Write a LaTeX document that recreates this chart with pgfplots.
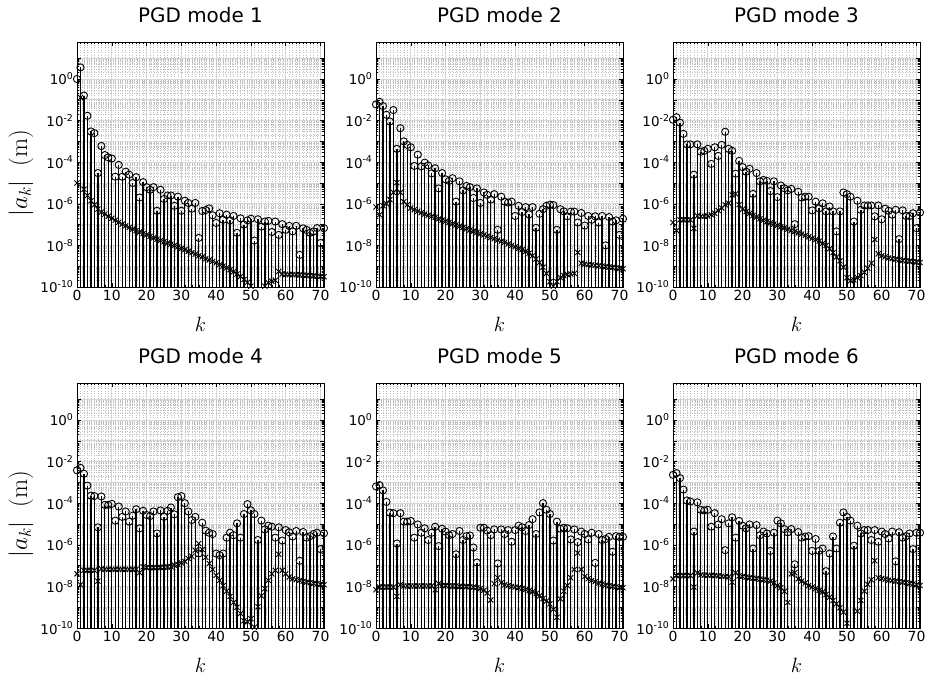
\documentclass[border=0pt]{standalone}
\usepackage{pgfplots}
\pgfplotsset{compat=1.18}
\usepackage{pgfplotstable}
\usepackage[no-math]{fontspec}
\setmainfont{DejaVu Sans}

\pgfplotstableread{
k c x
0 1.0 1e-5
1 3.6 0.13
2 0.16 5e-6
3 0.017 2.5e-6
4 3e-3 1.4e-6
5 2.5e-3 9e-7
6 3e-5 5.6e-7
7 6e-4 4e-7
8 2.2e-4 3.2e-7
9 1.7e-4 2.5e-7
10 1.5e-4 2e-7
11 2e-5 1.6e-7
12 7.4e-5 1.3e-7
13 2e-5 1.05e-7
14 3.5e-5 8.7e-8
15 2.5e-5 7.2e-8
16 1e-5 6e-8
17 1.9e-5 5.1e-8
18 2e-6 4.4e-8
19 1.1e-5 3.7e-8
20 6.3e-6 3.2e-8
21 4.7e-6 2.7e-8
22 6.3e-6 2.3e-8
23 4.6e-7 2e-8
24 4.7e-6 1.7e-8
25 1.7e-6 1.5e-8
26 2.5e-6 1.3e-8
27 2.5e-6 1.15e-8
28 8e-7 1e-8
29 2.2e-6 8.5e-9
30 4.6e-7 7.2e-9
31 1.4e-6 6.2e-9
32 1.1e-6 5.2e-9
33 5.8e-7 4.5e-9
34 1.1e-6 3.8e-9
35 2.3e-8 3.2e-9
36 4.5e-7 2.8e-9
37 5e-7 2.3e-9
38 6e-7 2e-9
39 2.8e-7 1.7e-9
40 1.2e-7 1.45e-9
41 3.5e-7 1.2e-9
42 1.7e-7 1e-9
43 3e-7 8.3e-10
44 1.6e-7 6.8e-10
45 2.6e-7 5.4e-10
46 4e-8 4.2e-10
47 2e-7 3.2e-10
48 1e-7 2.3e-10
49 1.6e-7 1.7e-10
50 1.9e-7 1.1e-10
51 1.7e-8 nan
52 1.8e-7 nan
53 8e-8 nan
54 1.4e-7 1.1e-10
55 1.5e-7 1.6e-10
56 4.4e-8 1.9e-10
57 1.4e-7 2.1e-10
58 3.2e-8 5.6e-10
59 1.05e-7 4.2e-10
60 5.6e-8 4.1e-10
61 8.7e-8 4e-10
62 4.7e-8 4e-10
63 8.7e-8 3.9e-10
64 3.5e-9 3.8e-10
65 6.6e-8 3.7e-10
66 5.5e-8 3.6e-10
67 4e-8 3.5e-10
68 4.7e-8 3.4e-10
69 6.8e-8 3.3e-10
70 1.3e-8 3.2e-10
71 6.8e-8 3.1e-10
}\tA

\pgfplotstableread{
k c x
0 0.06 7e-7
1 0.08 3e-7
2 0.05 8e-7
3 0.019 1e-6
4 9e-3 1.6e-6
5 0.032 3.5e-6
6 4.4e-4 1.05e-5
7 4.3e-3 3.5e-6
8 1e-3 1.26e-6
9 6.8e-4 9e-7
10 5.2e-4 6.3e-7
11 6.6e-5 5.2e-7
12 2.3e-4 4.4e-7
13 6.3e-5 3.7e-7
14 9.5e-5 3.2e-7
15 7e-5 2.8e-7
16 2.9e-5 2.5e-7
17 5.1e-5 2.2e-7
18 5.5e-6 1.9e-7
19 3e-5 1.66e-7
20 1.5e-5 1.45e-7
21 1.26e-5 1.26e-7
22 1.7e-5 1.1e-7
23 1.26e-6 9.5e-8
24 1.2e-5 8.3e-8
25 4.4e-6 7.2e-8
26 7.2e-6 6.3e-8
27 6.3e-6 5.5e-8
28 1.9e-6 4.8e-8
29 5.5e-6 4.2e-8
30 1.1e-6 3.6e-8
31 3.5e-6 3.2e-8
32 2.7e-6 2.75e-8
33 1.6e-6 2.4e-8
34 2.9e-6 2.1e-8
35 5.6e-8 1.8e-8
36 2.2e-6 1.6e-8
37 1.26e-6 1.4e-8
38 1.15e-6 1.17e-8
39 1.26e-6 1e-8
40 2.6e-7 8.5e-9
41 8e-7 7.2e-9
42 4e-7 6.2e-9
43 6.9e-7 5.1e-9
44 3.1e-7 4.2e-9
45 6.9e-7 3.2e-9
46 7e-8 2.2e-9
47 3.3e-7 1.5e-9
48 5.5e-7 9e-10
49 8e-7 4.5e-10
50 9e-7 1.8e-10
51 8.7e-7 1.1e-10
52 5.6e-8 1.8e-10
53 5.5e-7 2.8e-10
54 4.3e-7 3.5e-10
55 2.5e-7 4e-10
56 4.2e-7 4.2e-10
57 4.2e-7 4.5e-10
58 1.26e-7 4.6e-9
59 3.6e-7 1.4e-9
60 9e-8 1.26e-9
61 2.6e-7 1.2e-9
62 1.7e-7 1.15e-9
63 2.5e-7 1.1e-9
64 1.26e-7 1.05e-9
65 2.6e-7 1e-9
66 1e-8 9.5e-10
67 2.3e-7 9.1e-10
68 1.4e-7 8.7e-10
69 1.6e-7 8.3e-10
70 3.2e-8 7.9e-10
71 1.9e-7 7.6e-10
}\tB

\pgfplotstableread{
k c x
0 0.011 1.26e-7
1 0.0145 5.2e-8
2 8e-3 1.7e-7
3 2.3e-3 1.7e-7
4 7.2e-4 1.7e-7
5 7.2e-4 1.7e-7
6 2.5e-5 6.6e-8
7 7.2e-4 2.6e-7
8 3.2e-4 2.5e-7
9 3.5e-4 2.5e-7
10 4.4e-4 2.6e-7
11 8.3e-5 3e-7
12 5.2e-4 3.5e-7
13 2e-4 4.8e-7
14 6.8e-4 6.3e-7
15 2.9e-3 9e-7
16 4.4e-4 1.07e-6
17 3.5e-4 2.7e-6
18 2.8e-5 3e-6
19 1.15e-4 9e-7
20 5.8e-5 5.5e-7
21 3.5e-5 4.2e-7
22 4.8e-5 3.4e-7
23 3e-6 2.75e-7
24 3e-5 2.3e-7
25 1.2e-5 1.9e-7
26 1.4e-5 1.6e-7
27 1.26e-5 1.38e-7
28 4.1e-6 1.2e-7
29 1.2e-5 1.05e-7
30 2.1e-6 9.1e-8
31 7.6e-6 7.9e-8
32 5.6e-6 6.9e-8
33 4.4e-6 6e-8
34 5.2e-6 5.2e-8
35 1.05e-7 4.6e-8
36 3.8e-6 4e-8
37 2e-6 3.5e-8
38 2.2e-6 3e-8
39 2.2e-6 2.6e-8
40 4.8e-7 2.2e-8
41 1.26e-6 1.9e-8
42 6e-7 1.6e-8
43 1.05e-6 1.26e-8
44 4.3e-7 1e-8
45 7.4e-7 7e-9
46 4.3e-7 4.5e-9
47 4.7e-8 2.8e-9
48 4.3e-7 1.8e-9
49 3.5e-6 9e-10
50 2.9e-6 2.8e-10
51 2.2e-6 2e-10
52 1.4e-7 2.2e-10
53 1.4e-6 2.8e-10
54 5.1e-7 3.5e-10
55 8.3e-7 5e-10
56 8.3e-7 8e-10
57 8.3e-7 1.4e-9
58 2.5e-7 1.9e-8
59 8.3e-7 4e-9
60 1.8e-7 3.2e-9
61 5.8e-7 2.8e-9
62 4.6e-7 2.5e-9
63 3e-7 2.3e-9
64 5.1e-7 2.2e-9
65 2e-8 2e-9
66 4.8e-7 1.9e-9
67 2.6e-7 1.8e-9
68 2.6e-7 1.74e-9
69 3.5e-7 1.66e-9
70 6.8e-8 1.6e-9
71 3.8e-7 1.5e-9
}\tC

\pgfplotstableread{
k c x
0 3.8e-3 4e-8
1 5e-3 1.2e-8
2 2.6e-3 5.9e-8
3 7e-4 5.9e-8
4 2.3e-4 5.9e-8
5 2.2e-4 5.9e-8
6 6.9e-6 1.8e-8
7 2.1e-4 7e-8
8 8.3e-5 6.6e-8
9 8.3e-5 6.6e-8
10 9.3e-5 6.6e-8
11 1.45e-5 6.6e-8
12 6.9e-5 6.6e-8
13 2.2e-5 6.6e-8
14 4e-5 6.6e-8
15 1.3e-5 6.6e-8
16 2.5e-5 6.6e-8
17 5.1e-5 6.6e-8
18 6.2e-6 4.6e-8
19 4.3e-5 8.7e-8
20 2.7e-5 8e-8
21 2.4e-5 8e-8
22 4e-5 8e-8
23 3.5e-6 8e-8
24 4.5e-5 8.2e-8
25 2.2e-5 8.4e-8
26 4.3e-5 8.6e-8
27 6.2e-5 8.8e-8
28 2.9e-5 1.05e-7
29 1.95e-4 1.15e-7
30 2.2e-4 1.35e-7
31 1e-4 1.6e-7
32 4e-5 2.2e-7
33 1.55e-5 2.8e-7
34 2.2e-5 5.5e-7
35 3.8e-7 1.15e-6
36 1.15e-5 5.9e-7
37 4.8e-6 2.5e-7
38 3.8e-6 1.26e-7
39 3.3e-6 6.5e-8
40 3.8e-7 3.4e-8
41 3.2e-7 1.95e-8
42 3.8e-7 1.1e-8
43 2.2e-6 5.9e-9
44 3.8e-6 3.3e-9
45 2.9e-6 1.7e-9
46 1.07e-5 1e-9
47 2.2e-6 5e-10
48 3e-5 2.2e-10
49 9e-5 2e-10
50 4.5e-5 2.8e-10
51 3e-5 1.1e-10
52 1.7e-6 1.05e-9
53 1.45e-5 3.5e-9
54 5.5e-6 7.8e-9
55 8.3e-6 1.95e-8
56 7.4e-6 4e-8
57 2.2e-6 5.9e-8
58 6.9e-6 3.5e-7
59 1.6e-6 5.9e-8
60 5.1e-6 4e-8
61 4e-6 2.8e-8
62 2.5e-6 2.3e-8
63 4.6e-6 2.1e-8
64 1.7e-7 1.95e-8
65 4.1e-6 1.75e-8
66 2.2e-6 1.6e-8
67 2.6e-6 1.5e-8
68 3.3e-6 1.4e-8
69 3.8e-6 1.3e-8
70 6.2e-7 1.26e-8
71 3.6e-6 1.2e-8
}\tD

\pgfplotstableread{
k c x
0 6.4e-4 6.9e-9
1 7.4e-4 9.3e-9
2 4.1e-4 9.3e-9
3 1.15e-4 9.3e-9
4 3.5e-5 9.3e-9
5 3.3e-5 9.3e-9
6 1.15e-6 3.3e-9
7 3.3e-5 1.2e-8
8 1.3e-5 1.05e-8
9 1.3e-5 1.05e-8
10 1.4e-5 1.05e-8
11 2.2e-6 1.05e-8
12 9.5e-6 1.05e-8
13 3.8e-6 1.05e-8
14 6.2e-6 1.05e-8
15 1.7e-6 1.05e-8
16 3.8e-6 1.05e-8
17 7.4e-6 6.9e-9
18 8.7e-7 1.35e-8
19 5.9e-6 1.1e-8
20 4.3e-6 1.1e-8
21 2.9e-6 1.05e-8
22 3.3e-6 1.05e-8
23 3.5e-7 1.05e-8
24 4.6e-6 1e-8
25 1.7e-6 1e-8
26 2.6e-6 9.8e-9
27 2.8e-6 9.5e-9
28 7.4e-7 9.3e-9
29 1.4e-7 8.7e-9
30 6.6e-6 7.8e-9
31 6.6e-6 6.5e-9
32 4.8e-6 4.8e-9
33 2.9e-6 2.2e-9
34 5.5e-6 1.35e-8
35 1.26e-7 2.6e-8
36 5.5e-6 1.5e-8
37 3.3e-6 1.2e-8
38 5.1e-6 1.1e-8
39 1.4e-6 1e-8
40 5.1e-6 9.3e-9
41 8.3e-6 8.7e-9
42 6.9e-6 8e-9
43 4.6e-6 7.2e-9
44 8.9e-6 6.3e-9
45 1.7e-5 5.5e-9
46 3.3e-6 4.5e-9
47 3.6e-5 3.5e-9
48 1e-4 2.6e-9
49 4.8e-5 2e-9
50 3e-5 1.45e-9
51 1.6e-6 8e-10
52 1.3e-5 3.3e-10
53 5.9e-6 2.5e-9
54 6.6e-6 5.9e-9
55 6.2e-6 1.1e-8
56 1.8e-6 2.6e-8
57 5.5e-6 6.5e-8
58 1.35e-6 4e-7
59 4.3e-6 6.5e-8
60 3.3e-6 3e-8
61 1.8e-6 2.3e-8
62 3.8e-6 1.95e-8
63 1.35e-7 1.7e-8
64 3.3e-6 1.45e-8
65 1.7e-6 1.3e-8
66 1.9e-6 1.15e-8
67 2.4e-6 1.07e-8
68 4.6e-7 1e-8
69 2.6e-6 9.3e-9
70 2.4e-6 8.9e-9
71 2.4e-6 8.7e-9
}\tE

\pgfplotstableread{
k c x
0 2.3e-3 2.3e-8
1 2.8e-3 3.3e-8
2 1.6e-3 3.3e-8
3 4.5e-4 3.3e-8
4 1.35e-4 3.3e-8
5 1.2e-4 3.3e-8
6 4.3e-6 9.3e-9
7 1.1e-4 4.5e-8
8 4.8e-5 3.6e-8
9 4.5e-5 3.5e-8
10 4.8e-5 3.4e-8
11 7.4e-6 3.4e-8
12 3.3e-5 3.3e-8
13 9.5e-6 3.2e-8
14 1.7e-5 3.1e-8
15 5.5e-7 3e-8
16 1.07e-5 2.9e-8
17 2.1e-5 1.6e-8
18 2.2e-6 4.5e-8
19 1.4e-5 3.2e-8
20 8.3e-6 3e-8
21 6.2e-6 2.8e-8
22 9.5e-6 2.6e-8
23 6.6e-7 2.5e-8
24 8.9e-6 2.4e-8
25 2.9e-6 2.2e-8
26 4.3e-6 2.1e-8
27 3.5e-6 2e-8
28 5.1e-7 1.8e-8
29 3.8e-6 1.45e-8
30 1.45e-5 1.1e-8
31 1.07e-5 8.7e-9
32 5.7e-6 5.8e-9
33 4e-6 1.7e-9
34 5.7e-6 4e-8
35 1.15e-7 4.5e-8
36 4.1e-6 2.3e-8
37 2.2e-6 1.8e-8
38 2.5e-6 1.45e-8
39 2.6e-6 1.1e-8
40 5.1e-7 9.3e-9
41 1.9e-6 7.8e-9
42 5.1e-7 6.5e-9
43 6.6e-7 5.4e-9
44 5.4e-8 4.1e-9
45 3.8e-7 3e-9
46 2.5e-6 2.1e-9
47 6.6e-7 1.45e-9
48 1.15e-5 9.3e-10
49 3.6e-5 5.8e-10
50 2.2e-5 1.7e-10
51 1.45e-5 nan
52 9e-7 nan
53 8.3e-6 6.5e-10
54 3.5e-6 2.1e-9
55 5.1e-6 5.9e-9
56 5.1e-6 1.26e-8
57 1.7e-6 2.1e-8
58 5.1e-6 1.7e-7
59 1.4e-6 2.6e-8
60 4.3e-6 2.4e-8
61 3.3e-6 2.2e-8
62 2e-6 2e-8
63 4.3e-6 1.9e-8
64 1.6e-7 1.8e-8
65 4e-6 1.7e-8
66 2.2e-6 1.6e-8
67 2.6e-6 1.5e-8
68 3.5e-6 1.4e-8
69 6.2e-7 1.3e-8
70 3.8e-6 1.2e-8
71 3.8e-6 1.1e-8
}\tF

\pgfplotsset{
  pgd/.style={
    scale only axis, width=247bp, height=245bp,
    xmin=0, xmax=71, ymin=1e-10, ymax=60,
    log origin y=infty,
    axis line style={black, line width=0.7bp},
    xtick={0,10,20,30,40,50,60,70},
    xticklabels={0,10,20,30,40,50,60,70},
    minor x tick num=9,
    ytick={1e-10,1e-9,1e-8,1e-7,1e-6,1e-5,1e-4,1e-3,1e-2,1e-1,1,10},
    yticklabels={10\textsuperscript{-10},,10\textsuperscript{-8},,10\textsuperscript{-6},,10\textsuperscript{-4},,10\textsuperscript{-2},,10\textsuperscript{0},},
    grid=both,
    major grid style={black!16, line width=0.6bp},
    minor grid style={black!25, dotted, line width=0.5bp},
    tick style={black, line width=0.5bp},
    major tick length=4bp, minor tick length=2bp,
    xtick pos=both, ytick pos=both,
    xticklabel style={font=\fontsize{14}{16}\selectfont},
    yticklabel style={font=\fontsize{13.5}{15}\selectfont},
    every axis title/.style={at={(axis description cs:0.5,1.0816)}, anchor=base, font=\fontsize{20}{24}\selectfont},
    every axis x label/.style={at={(axis description cs:0.5,-0.18)}, anchor=base, font=\fontsize{22}{26}\selectfont},
    every axis y label/.style={at={(axis description cs:-0.2267,0.465)}, rotate=90, anchor=center, font=\fontsize{23}{27}\selectfont},
    xlabel={$k$},
  },
  stemc/.style={ycomb, black, line width=1.3bp, mark=o, mark size=3.6bp, mark options={solid, black, line width=0.9bp}},
  stemx/.style={ycomb, black, line width=1.3bp, mark=x, mark size=3.6bp, mark options={solid, black, line width=0.9bp}},
}

\begin{document}
\begin{tikzpicture}
\path[use as bounding box] (0bp,0bp) rectangle (928bp,686bp);
\begin{axis}[ymode=log, pgd, at={(77bp,644bp)}, anchor=north west, title={PGD mode 1}, ylabel={$|a_k|\;\;(\mathrm{m})$}]
\addplot[stemc] table[x=k,y=c] {\tA};
\addplot[stemx] table[x=k,y=x] {\tA};
\end{axis}
\begin{axis}[ymode=log, pgd, at={(376bp,644bp)}, anchor=north west, title={PGD mode 2}]
\addplot[stemc] table[x=k,y=c] {\tB};
\addplot[stemx] table[x=k,y=x] {\tB};
\end{axis}
\begin{axis}[ymode=log, pgd, at={(673bp,644bp)}, anchor=north west, title={PGD mode 3}]
\addplot[stemc] table[x=k,y=c] {\tC};
\addplot[stemx] table[x=k,y=x] {\tC};
\end{axis}
\begin{axis}[ymode=log, pgd, at={(77bp,303bp)}, anchor=north west, title={PGD mode 4}, ylabel={$|a_k|\;\;(\mathrm{m})$}]
\addplot[stemc] table[x=k,y=c] {\tD};
\addplot[stemx] table[x=k,y=x] {\tD};
\end{axis}
\begin{axis}[ymode=log, pgd, at={(376bp,303bp)}, anchor=north west, title={PGD mode 5}]
\addplot[stemc] table[x=k,y=c] {\tE};
\addplot[stemx] table[x=k,y=x] {\tE};
\end{axis}
\begin{axis}[ymode=log, pgd, at={(673bp,303bp)}, anchor=north west, title={PGD mode 6}]
\addplot[stemc] table[x=k,y=c] {\tF};
\addplot[stemx] table[x=k,y=x] {\tF};
\end{axis}
\end{tikzpicture}
\end{document}
